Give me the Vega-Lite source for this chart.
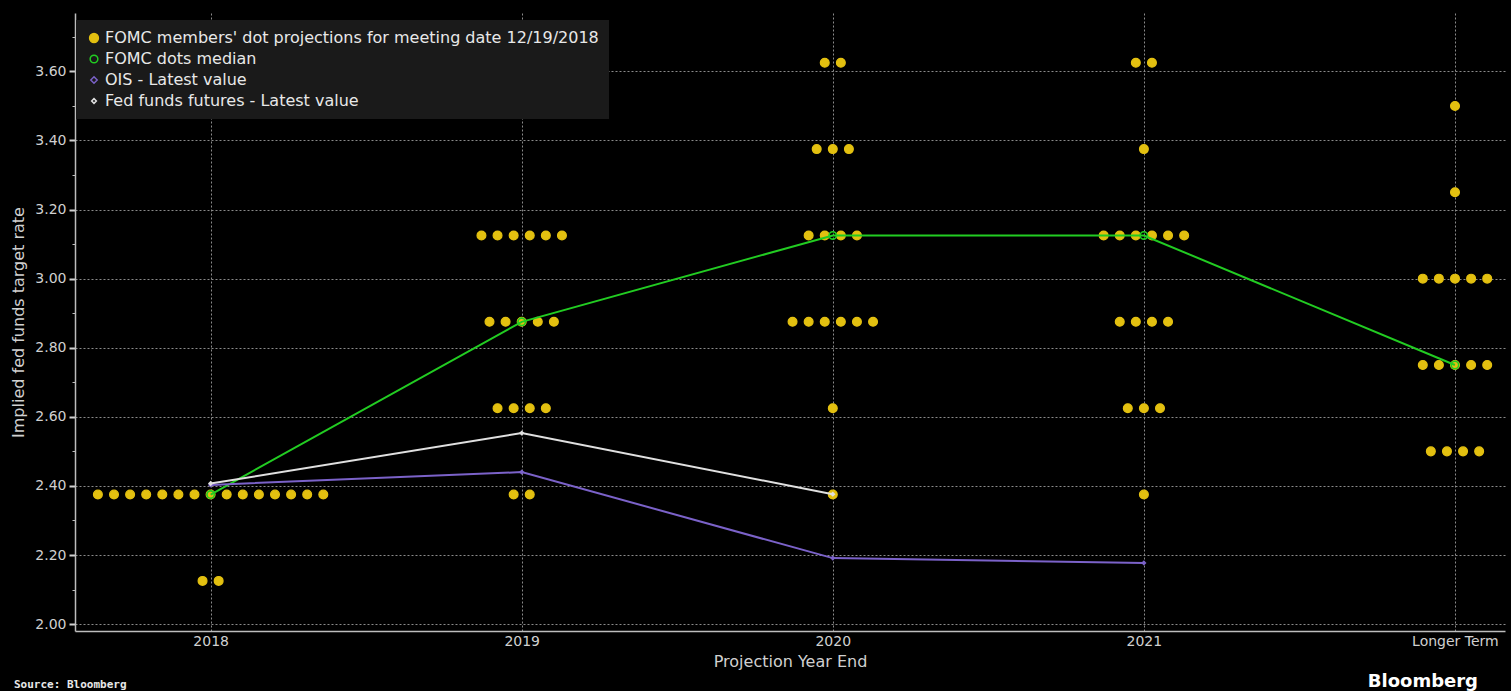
{
  "$schema": "https://vega.github.io/schema/vega-lite/v6.json",
  "width": 1430,
  "height": 618,
  "autosize": "none",
  "padding": {"left": 75, "top": 13, "right": 6, "bottom": 60},
  "background": "#000000",
  "config": {
    "view": {"stroke": null},
    "axis": {
      "domainColor": "#bdbdbd", "domainWidth": 1.5,
      "gridColor": "#8a8a8a", "gridDash": [2, 2], "gridWidth": 1,
      "labelColor": "#d0d0d0", "labelFont": "DejaVu Sans", "labelFontSize": 14,
      "titleColor": "#d0d0d0", "titleFont": "DejaVu Sans", "titleFontSize": 16, "titleFontWeight": "normal",
      "tickColor": "#d0d0d0"
    },
    "axisX": {"tickSize": 0, "labelPadding": 3, "titlePadding": 5},
    "axisY": {"tickSize": 6, "tickWidth": 2, "labelPadding": 3, "titlePadding": 8}
  },
  "datasets": {
    "dots": [
      {"series": "FOMC members' dot projections for meeting date 12/19/2018", "year": 2018, "rate": 2.375, "slot": -7},
      {"series": "FOMC members' dot projections for meeting date 12/19/2018", "year": 2018, "rate": 2.375, "slot": -6},
      {"series": "FOMC members' dot projections for meeting date 12/19/2018", "year": 2018, "rate": 2.375, "slot": -5},
      {"series": "FOMC members' dot projections for meeting date 12/19/2018", "year": 2018, "rate": 2.375, "slot": -4},
      {"series": "FOMC members' dot projections for meeting date 12/19/2018", "year": 2018, "rate": 2.375, "slot": -3},
      {"series": "FOMC members' dot projections for meeting date 12/19/2018", "year": 2018, "rate": 2.375, "slot": -2},
      {"series": "FOMC members' dot projections for meeting date 12/19/2018", "year": 2018, "rate": 2.375, "slot": -1},
      {"series": "FOMC members' dot projections for meeting date 12/19/2018", "year": 2018, "rate": 2.375, "slot": 0},
      {"series": "FOMC members' dot projections for meeting date 12/19/2018", "year": 2018, "rate": 2.375, "slot": 1},
      {"series": "FOMC members' dot projections for meeting date 12/19/2018", "year": 2018, "rate": 2.375, "slot": 2},
      {"series": "FOMC members' dot projections for meeting date 12/19/2018", "year": 2018, "rate": 2.375, "slot": 3},
      {"series": "FOMC members' dot projections for meeting date 12/19/2018", "year": 2018, "rate": 2.375, "slot": 4},
      {"series": "FOMC members' dot projections for meeting date 12/19/2018", "year": 2018, "rate": 2.375, "slot": 5},
      {"series": "FOMC members' dot projections for meeting date 12/19/2018", "year": 2018, "rate": 2.375, "slot": 6},
      {"series": "FOMC members' dot projections for meeting date 12/19/2018", "year": 2018, "rate": 2.375, "slot": 7},
      {"series": "FOMC members' dot projections for meeting date 12/19/2018", "year": 2018, "rate": 2.125, "slot": -0.5},
      {"series": "FOMC members' dot projections for meeting date 12/19/2018", "year": 2018, "rate": 2.125, "slot": 0.5},
      {"series": "FOMC members' dot projections for meeting date 12/19/2018", "year": 2019, "rate": 3.125, "slot": -2.5},
      {"series": "FOMC members' dot projections for meeting date 12/19/2018", "year": 2019, "rate": 3.125, "slot": -1.5},
      {"series": "FOMC members' dot projections for meeting date 12/19/2018", "year": 2019, "rate": 3.125, "slot": -0.5},
      {"series": "FOMC members' dot projections for meeting date 12/19/2018", "year": 2019, "rate": 3.125, "slot": 0.5},
      {"series": "FOMC members' dot projections for meeting date 12/19/2018", "year": 2019, "rate": 3.125, "slot": 1.5},
      {"series": "FOMC members' dot projections for meeting date 12/19/2018", "year": 2019, "rate": 3.125, "slot": 2.5},
      {"series": "FOMC members' dot projections for meeting date 12/19/2018", "year": 2019, "rate": 2.875, "slot": -2},
      {"series": "FOMC members' dot projections for meeting date 12/19/2018", "year": 2019, "rate": 2.875, "slot": -1},
      {"series": "FOMC members' dot projections for meeting date 12/19/2018", "year": 2019, "rate": 2.875, "slot": 0},
      {"series": "FOMC members' dot projections for meeting date 12/19/2018", "year": 2019, "rate": 2.875, "slot": 1},
      {"series": "FOMC members' dot projections for meeting date 12/19/2018", "year": 2019, "rate": 2.875, "slot": 2},
      {"series": "FOMC members' dot projections for meeting date 12/19/2018", "year": 2019, "rate": 2.625, "slot": -1.5},
      {"series": "FOMC members' dot projections for meeting date 12/19/2018", "year": 2019, "rate": 2.625, "slot": -0.5},
      {"series": "FOMC members' dot projections for meeting date 12/19/2018", "year": 2019, "rate": 2.625, "slot": 0.5},
      {"series": "FOMC members' dot projections for meeting date 12/19/2018", "year": 2019, "rate": 2.625, "slot": 1.5},
      {"series": "FOMC members' dot projections for meeting date 12/19/2018", "year": 2019, "rate": 2.375, "slot": -0.5},
      {"series": "FOMC members' dot projections for meeting date 12/19/2018", "year": 2019, "rate": 2.375, "slot": 0.5},
      {"series": "FOMC members' dot projections for meeting date 12/19/2018", "year": 2020, "rate": 3.625, "slot": -0.5},
      {"series": "FOMC members' dot projections for meeting date 12/19/2018", "year": 2020, "rate": 3.625, "slot": 0.5},
      {"series": "FOMC members' dot projections for meeting date 12/19/2018", "year": 2020, "rate": 3.375, "slot": -1},
      {"series": "FOMC members' dot projections for meeting date 12/19/2018", "year": 2020, "rate": 3.375, "slot": 0},
      {"series": "FOMC members' dot projections for meeting date 12/19/2018", "year": 2020, "rate": 3.375, "slot": 1},
      {"series": "FOMC members' dot projections for meeting date 12/19/2018", "year": 2020, "rate": 3.125, "slot": -1.5},
      {"series": "FOMC members' dot projections for meeting date 12/19/2018", "year": 2020, "rate": 3.125, "slot": -0.5},
      {"series": "FOMC members' dot projections for meeting date 12/19/2018", "year": 2020, "rate": 3.125, "slot": 0.5},
      {"series": "FOMC members' dot projections for meeting date 12/19/2018", "year": 2020, "rate": 3.125, "slot": 1.5},
      {"series": "FOMC members' dot projections for meeting date 12/19/2018", "year": 2020, "rate": 2.875, "slot": -2.5},
      {"series": "FOMC members' dot projections for meeting date 12/19/2018", "year": 2020, "rate": 2.875, "slot": -1.5},
      {"series": "FOMC members' dot projections for meeting date 12/19/2018", "year": 2020, "rate": 2.875, "slot": -0.5},
      {"series": "FOMC members' dot projections for meeting date 12/19/2018", "year": 2020, "rate": 2.875, "slot": 0.5},
      {"series": "FOMC members' dot projections for meeting date 12/19/2018", "year": 2020, "rate": 2.875, "slot": 1.5},
      {"series": "FOMC members' dot projections for meeting date 12/19/2018", "year": 2020, "rate": 2.875, "slot": 2.5},
      {"series": "FOMC members' dot projections for meeting date 12/19/2018", "year": 2020, "rate": 2.625, "slot": 0},
      {"series": "FOMC members' dot projections for meeting date 12/19/2018", "year": 2020, "rate": 2.375, "slot": 0},
      {"series": "FOMC members' dot projections for meeting date 12/19/2018", "year": 2021, "rate": 3.625, "slot": -0.5},
      {"series": "FOMC members' dot projections for meeting date 12/19/2018", "year": 2021, "rate": 3.625, "slot": 0.5},
      {"series": "FOMC members' dot projections for meeting date 12/19/2018", "year": 2021, "rate": 3.375, "slot": 0},
      {"series": "FOMC members' dot projections for meeting date 12/19/2018", "year": 2021, "rate": 3.125, "slot": -2.5},
      {"series": "FOMC members' dot projections for meeting date 12/19/2018", "year": 2021, "rate": 3.125, "slot": -1.5},
      {"series": "FOMC members' dot projections for meeting date 12/19/2018", "year": 2021, "rate": 3.125, "slot": -0.5},
      {"series": "FOMC members' dot projections for meeting date 12/19/2018", "year": 2021, "rate": 3.125, "slot": 0.5},
      {"series": "FOMC members' dot projections for meeting date 12/19/2018", "year": 2021, "rate": 3.125, "slot": 1.5},
      {"series": "FOMC members' dot projections for meeting date 12/19/2018", "year": 2021, "rate": 3.125, "slot": 2.5},
      {"series": "FOMC members' dot projections for meeting date 12/19/2018", "year": 2021, "rate": 2.875, "slot": -1.5},
      {"series": "FOMC members' dot projections for meeting date 12/19/2018", "year": 2021, "rate": 2.875, "slot": -0.5},
      {"series": "FOMC members' dot projections for meeting date 12/19/2018", "year": 2021, "rate": 2.875, "slot": 0.5},
      {"series": "FOMC members' dot projections for meeting date 12/19/2018", "year": 2021, "rate": 2.875, "slot": 1.5},
      {"series": "FOMC members' dot projections for meeting date 12/19/2018", "year": 2021, "rate": 2.625, "slot": -1},
      {"series": "FOMC members' dot projections for meeting date 12/19/2018", "year": 2021, "rate": 2.625, "slot": 0},
      {"series": "FOMC members' dot projections for meeting date 12/19/2018", "year": 2021, "rate": 2.625, "slot": 1},
      {"series": "FOMC members' dot projections for meeting date 12/19/2018", "year": 2021, "rate": 2.375, "slot": 0},
      {"series": "FOMC members' dot projections for meeting date 12/19/2018", "year": 2022, "rate": 3.5, "slot": 0},
      {"series": "FOMC members' dot projections for meeting date 12/19/2018", "year": 2022, "rate": 3.25, "slot": 0},
      {"series": "FOMC members' dot projections for meeting date 12/19/2018", "year": 2022, "rate": 3.0, "slot": -2},
      {"series": "FOMC members' dot projections for meeting date 12/19/2018", "year": 2022, "rate": 3.0, "slot": -1},
      {"series": "FOMC members' dot projections for meeting date 12/19/2018", "year": 2022, "rate": 3.0, "slot": 0},
      {"series": "FOMC members' dot projections for meeting date 12/19/2018", "year": 2022, "rate": 3.0, "slot": 1},
      {"series": "FOMC members' dot projections for meeting date 12/19/2018", "year": 2022, "rate": 3.0, "slot": 2},
      {"series": "FOMC members' dot projections for meeting date 12/19/2018", "year": 2022, "rate": 2.75, "slot": -2},
      {"series": "FOMC members' dot projections for meeting date 12/19/2018", "year": 2022, "rate": 2.75, "slot": -1},
      {"series": "FOMC members' dot projections for meeting date 12/19/2018", "year": 2022, "rate": 2.75, "slot": 0},
      {"series": "FOMC members' dot projections for meeting date 12/19/2018", "year": 2022, "rate": 2.75, "slot": 1},
      {"series": "FOMC members' dot projections for meeting date 12/19/2018", "year": 2022, "rate": 2.75, "slot": 2},
      {"series": "FOMC members' dot projections for meeting date 12/19/2018", "year": 2022, "rate": 2.5, "slot": -1.5},
      {"series": "FOMC members' dot projections for meeting date 12/19/2018", "year": 2022, "rate": 2.5, "slot": -0.5},
      {"series": "FOMC members' dot projections for meeting date 12/19/2018", "year": 2022, "rate": 2.5, "slot": 0.5},
      {"series": "FOMC members' dot projections for meeting date 12/19/2018", "year": 2022, "rate": 2.5, "slot": 1.5}
    ],
    "lines": [
      {"series": "FOMC dots median", "year": 2018, "rate": 2.375},
      {"series": "FOMC dots median", "year": 2019, "rate": 2.875},
      {"series": "FOMC dots median", "year": 2020, "rate": 3.125},
      {"series": "FOMC dots median", "year": 2021, "rate": 3.125},
      {"series": "FOMC dots median", "year": 2022, "rate": 2.75},
      {"series": "OIS - Latest value", "year": 2018, "rate": 2.403},
      {"series": "OIS - Latest value", "year": 2019, "rate": 2.44},
      {"series": "OIS - Latest value", "year": 2020, "rate": 2.191},
      {"series": "OIS - Latest value", "year": 2021, "rate": 2.177},
      {"series": "Fed funds futures - Latest value", "year": 2018, "rate": 2.407},
      {"series": "Fed funds futures - Latest value", "year": 2019, "rate": 2.553},
      {"series": "Fed funds futures - Latest value", "year": 2020, "rate": 2.376}
    ],
    "notes": [
      {"label": "Source: Bloomberg", "year": 2017.564, "rate": 1.98, "kind": "source"},
      {"label": "Bloomberg", "year": 2022.161, "rate": 1.98, "kind": "brand"}
    ]
  },
  "encoding": {
    "y": {"field": "rate", "type": "quantitative",
      "scale": {"domain": [1.98, 3.769], "nice": false, "zero": false}}
  },
  "resolve": {"scale": {"x": "independent"}, "axis": {"x": "independent", "y": "independent"}},
  "layer": [
    {
      "data": {"name": "notes"},
      "encoding": {
        "x": {"field": "year", "type": "quantitative",
          "scale": {"domain": [2017.564, 2022.161], "nice": false, "zero": false},
          "axis": {"orient": "bottom", "grid": true, "values": [2018, 2019, 2020, 2021, 2022], "format": "d", "labelExpr": "datum.value == 2022 ? 'Longer Term' : datum.label", "title": "Projection Year End", "labelFlush": false}},
        "y": {"field": "rate", "type": "quantitative",
          "axis": {"orient": "left", "values": [2.0, 2.2, 2.4, 2.6, 2.8, 3.0, 3.2, 3.4, 3.6], "format": ".2f", "title": "Implied fed funds target rate", "labelFlush": false, "grid": true}},
        "text": {"field": "label"}
      },
      "layer": [
        {
          "transform": [{"filter": "datum.kind == 'source'"}],
          "mark": {"type": "text", "align": "left", "baseline": "alphabetic", "dx": -61, "dy": 57, "font": "DejaVu Sans Mono", "fontWeight": "bold", "fontSize": 11, "color": "#e8e8e8"}
        },
        {
          "transform": [{"filter": "datum.kind == 'brand'"}],
          "mark": {"type": "text", "align": "right", "baseline": "alphabetic", "dx": -27, "dy": 56, "font": "DejaVu Sans", "fontWeight": "bold", "fontSize": 18, "color": "#ffffff"}
        }
      ]
    },
    {
      "data": {"name": "dots"},
      "mark": {"type": "point", "filled": true, "opacity": 1, "strokeWidth": 1.2},
      "encoding": {
        "x": {"field": "year", "type": "ordinal",
          "scale": {"type": "point", "domain": [2018, 2019, 2020, 2021, 2022], "range": [135.6, 1380], "padding": 0},
          "axis": null},
        "y": {"field": "rate", "type": "quantitative",
          "axis": {"orient": "left", "values": [2.1, 2.3, 2.5, 2.7, 2.9, 3.1, 3.3, 3.5, 3.7], "labels": false, "grid": false, "domain": false, "tickSize": 3, "tickWidth": 1, "tickColor": "#bdbdbd", "title": null}},
        "xOffset": {"field": "slot", "type": "quantitative", "scale": {"domain": [-7, 7], "range": [-112.7, 112.7]}},
        "fill": {"field": "series", "type": "nominal",
          "scale": {"domain": ["FOMC members' dot projections for meeting date 12/19/2018", "FOMC dots median", "OIS - Latest value", "Fed funds futures - Latest value"],
                    "range": ["#e3c010", "#1a1a1a", "#1a1a1a", "#1a1a1a"]},
          "legend": {"title": null, "orient": "none", "legendX": 1, "legendY": 7, "fillColor": "#1a1a1a", "padding": 10,
            "labelFont": "DejaVu Sans", "labelFontSize": 16, "labelColor": "#e8e8e8", "labelOffset": 3, "rowPadding": 5, "labelLimit": 800}},
        "stroke": {"field": "series", "type": "nominal",
          "scale": {"domain": ["FOMC members' dot projections for meeting date 12/19/2018", "FOMC dots median", "OIS - Latest value", "Fed funds futures - Latest value"],
                    "range": ["#e3c010", "#22cc22", "#7b62c9", "#e0e0e0"]},
          "legend": {"title": null, "orient": "none", "legendX": 1, "legendY": 7, "fillColor": "#1a1a1a", "padding": 10,
            "labelFont": "DejaVu Sans", "labelFontSize": 16, "labelColor": "#e8e8e8", "labelOffset": 3, "rowPadding": 5, "labelLimit": 800}},
        "shape": {"field": "series", "type": "nominal",
          "scale": {"domain": ["FOMC members' dot projections for meeting date 12/19/2018", "FOMC dots median", "OIS - Latest value", "Fed funds futures - Latest value"],
                    "range": ["circle", "circle", "diamond", "diamond"]},
          "legend": {"title": null, "orient": "none", "legendX": 1, "legendY": 7, "fillColor": "#1a1a1a", "padding": 10,
            "labelFont": "DejaVu Sans", "labelFontSize": 16, "labelColor": "#e8e8e8", "labelOffset": 3, "rowPadding": 5, "labelLimit": 800}},
        "size": {"field": "series", "type": "nominal",
          "scale": {"domain": ["FOMC members' dot projections for meeting date 12/19/2018", "FOMC dots median", "OIS - Latest value", "Fed funds futures - Latest value"],
                    "range": [78, 22, 26, 26]},
          "legend": {"title": null, "orient": "none", "legendX": 1, "legendY": 7, "fillColor": "#1a1a1a", "padding": 10,
            "labelFont": "DejaVu Sans", "labelFontSize": 16, "labelColor": "#e8e8e8", "labelOffset": 3, "rowPadding": 5, "labelLimit": 800}}
      }
    },
    {
      "data": {"name": "lines"},
      "encoding": {
        "x": {"field": "year", "type": "quantitative",
          "scale": {"domain": [2017.564, 2022.161], "nice": false, "zero": false},
          "axis": null},
        "y": {"field": "rate", "type": "quantitative", "axis": null},
        "color": {"field": "series", "type": "nominal",
          "scale": {"domain": ["FOMC members' dot projections for meeting date 12/19/2018", "FOMC dots median", "OIS - Latest value", "Fed funds futures - Latest value"],
                    "range": ["#e3c010", "#22cc22", "#7b62c9", "#e0e0e0"]},
          "legend": null}
      },
      "layer": [
        {"mark": {"type": "line", "strokeWidth": 2}},
        {
          "transform": [{"filter": "datum.series == 'FOMC dots median'"}],
          "mark": {"type": "point", "filled": false, "size": 55, "strokeWidth": 1.6, "opacity": 1}
        },
        {
          "transform": [{"filter": "datum.series != 'FOMC dots median'"}],
          "mark": {"type": "point", "filled": true, "shape": "diamond", "size": 28, "opacity": 1}
        }
      ]
    }
  ]
}
